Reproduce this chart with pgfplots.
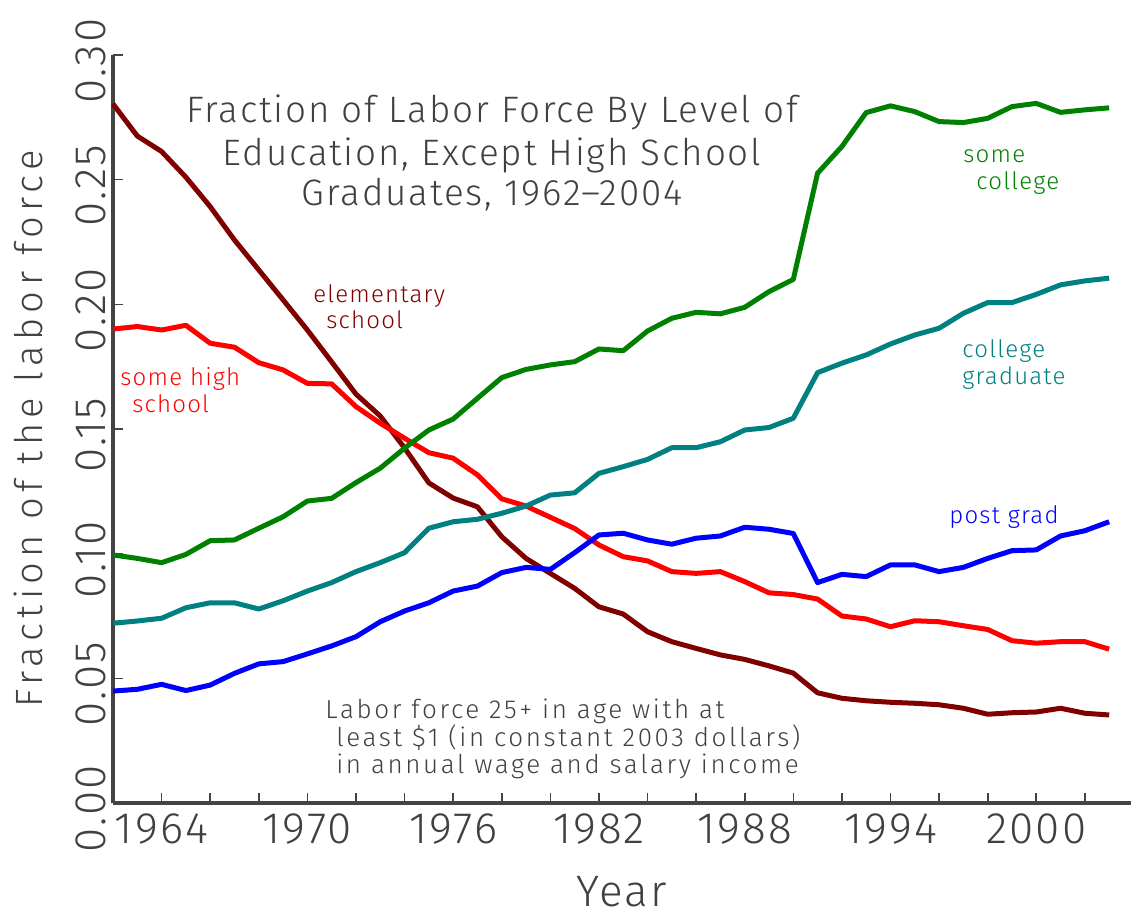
\documentclass[border=0pt]{standalone}
\usepackage{fontspec}
\setmainfont{Fira Sans Light}[LetterSpace=5]
\newfontfamily\widefont{Fira Sans Light}[LetterSpace=10]
\newfontfamily\widerfont{Fira Sans Light}[LetterSpace=14]
\usepackage{pgfplots}
\usepackage{pgfplotstable}
\pgfplotsset{compat=1.18}
\definecolor{axisgray}{HTML}{444444}
\definecolor{textgray}{HTML}{404040}
\definecolor{cElem}{HTML}{800000}
\definecolor{cHigh}{HTML}{FF0000}
\definecolor{cColl}{HTML}{008000}
\definecolor{cGrad}{HTML}{008080}
\definecolor{cPost}{HTML}{0000FF}
\pgfplotstableread{
year elem high coll grad post
1962 0.2804 0.1901 0.0995 0.0721 0.0449
1963 0.2675 0.1911 0.0981 0.0730 0.0456
1964 0.2613 0.1897 0.0964 0.0741 0.0476
1965 0.2510 0.1916 0.0997 0.0783 0.0451
1966 0.2392 0.1844 0.1052 0.0803 0.0473
1967 0.2258 0.1828 0.1055 0.0803 0.0520
1968 0.2138 0.1766 0.1102 0.0778 0.0558
1969 0.2018 0.1737 0.1148 0.0811 0.0567
1970 0.1897 0.1683 0.1211 0.0850 0.0598
1971 0.1769 0.1681 0.1222 0.0884 0.0630
1972 0.1640 0.1590 0.1285 0.0928 0.0667
1973 0.1552 0.1523 0.1343 0.0964 0.0727
1974 0.1424 0.1463 0.1423 0.1004 0.0770
1975 0.1284 0.1405 0.1496 0.1102 0.0803
1976 0.1223 0.1383 0.1540 0.1128 0.0850
1977 0.1188 0.1316 0.1623 0.1138 0.0870
1978 0.1068 0.1220 0.1706 0.1162 0.0924
1979 0.0981 0.1191 0.1739 0.1191 0.0945
1980 0.0921 0.1146 0.1757 0.1235 0.0937
1981 0.0861 0.1101 0.1770 0.1244 0.1004
1982 0.0787 0.1035 0.1821 0.1322 0.1075
1983 0.0758 0.0988 0.1814 0.1349 0.1082
1984 0.0687 0.0971 0.1893 0.1378 0.1055
1985 0.0647 0.0928 0.1944 0.1425 0.1038
1986 0.0620 0.0921 0.1968 0.1425 0.1062
1987 0.0594 0.0928 0.1962 0.1449 0.1071
1988 0.0576 0.0888 0.1988 0.1496 0.1106
1989 0.0550 0.0843 0.2051 0.1506 0.1098
1990 0.0521 0.0836 0.2100 0.1543 0.1081
1991 0.0442 0.0818 0.2526 0.1726 0.0884
1992 0.0420 0.0750 0.2633 0.1764 0.0917
1993 0.0410 0.0738 0.2769 0.1797 0.0908
1994 0.0404 0.0707 0.2796 0.1841 0.0955
1995 0.0400 0.0731 0.2773 0.1877 0.0955
1996 0.0394 0.0727 0.2733 0.1904 0.0928
1997 0.0380 0.0711 0.2729 0.1964 0.0945
1998 0.0356 0.0696 0.2746 0.2007 0.0981
1999 0.0362 0.0651 0.2793 0.2007 0.1012
2000 0.0365 0.0641 0.2806 0.2040 0.1015
2001 0.0380 0.0647 0.2770 0.2078 0.1071
2002 0.0360 0.0647 0.2780 0.2094 0.1092
2003 0.0353 0.0617 0.2788 0.2105 0.1128
}\data
\begin{document}
\begin{tikzpicture}
\begin{axis}[
  at={(56.5pt,57.5pt)}, anchor=south west,
  width=509pt, height=374pt, scale only axis,
  xmin=1962, xmax=2003.9, ymin=0, ymax=0.30,
  axis lines*=left,
  axis line style={line width=1.6pt, color=axisgray},
  tick align=inside, major tick length=5pt,
  tick style={line width=0.8pt, color=axisgray},
  xtick={1964,1966,...,2002},
  xticklabels={1964,,,1970,,,1976,,,1982,,,1988,,,1994,,,2000,,},
  ytick={0,0.05,0.10,0.15,0.20,0.25,0.30},
  yticklabels={0.00,0.05,0.10,0.15,0.20,0.25,0.30},
  ticklabel style={font=\fontsize{22}{24}\selectfont, color=textgray},
  xticklabel style={yshift=-2pt},
  yticklabel style={rotate=90, anchor=south, xshift=-3pt},
  xlabel={Year}, ylabel={Fraction of the labor force},
  xlabel style={at={(axis description cs:0.5,-0.118)}, anchor=center, font=\fontsize{22}{24}\selectfont, color=textgray},
  ylabel style={at={(axis description cs:-0.0835,0.5)}, anchor=center, font=\widerfont\fontsize{19}{21}\selectfont, color=textgray},
  clip=false,
  every axis plot/.append style={line width=2.5pt, line join=round, mark=none},
]
\addplot[color=cElem] table[x=year,y=elem]{\data};
\addplot[color=cHigh] table[x=year,y=high]{\data};
\addplot[color=cColl] table[x=year,y=coll]{\data};
\addplot[color=cGrad] table[x=year,y=grad]{\data};
\addplot[color=cPost] table[x=year,y=post]{\data};
\end{axis}
\begin{scope}[every node/.style={inner sep=0pt}]
\node[anchor=base, color=textgray, font=\fontsize{18.4}{20}\selectfont] at (246pt,397.5pt) {Fraction of Labor Force By Level of};
\node[anchor=base, color=textgray, font=\fontsize{18.4}{20}\selectfont] at (246pt,376pt) {Education, Except High School};
\node[anchor=base, color=textgray, font=\fontsize{18.4}{20}\selectfont] at (246pt,356pt) {Graduates, 1962--2004};
\node[anchor=base west, color=cElem, font=\fontsize{12}{14}\selectfont] at (156.5pt,308pt) {elementary};
\node[anchor=base west, color=cElem, font=\fontsize{12}{14}\selectfont] at (163pt,294.5pt) {school};
\node[anchor=base west, color=cHigh, font=\fontsize{12}{14}\selectfont] at (60pt,266.5pt) {some high};
\node[anchor=base west, color=cHigh, font=\fontsize{12}{14}\selectfont] at (66pt,253pt) {school};
\node[anchor=base west, color=cColl, font=\fontsize{12}{14}\selectfont] at (481.5pt,377.5pt) {some};
\node[anchor=base west, color=cColl, font=\fontsize{12}{14}\selectfont] at (488pt,364pt) {college};
\node[anchor=base west, color=cGrad, font=\fontsize{12}{14}\selectfont] at (481pt,280.5pt) {college};
\node[anchor=base west, color=cGrad, font=\fontsize{12}{14}\selectfont] at (481pt,267pt) {graduate};
\node[anchor=base west, color=cPost, font=\fontsize{12}{14}\selectfont] at (474.5pt,197.5pt) {post grad};
\node[anchor=base west, color=textgray, font=\widefont\fontsize{13}{15}\selectfont] at (162.5pt,100pt) {Labor force 25+ in age with at};
\node[anchor=base west, color=textgray, font=\widefont\fontsize{13}{15}\selectfont] at (168pt,86pt) {least \$1 (in constant 2003 dollars)};
\node[anchor=base west, color=textgray, font=\widefont\fontsize{13}{15}\selectfont] at (168pt,72.5pt) {in annual wage and salary income};
\end{scope}
\pgfresetboundingbox
\useasboundingbox (0,0) rectangle (565.5pt,459pt);
\end{tikzpicture}
\end{document}
